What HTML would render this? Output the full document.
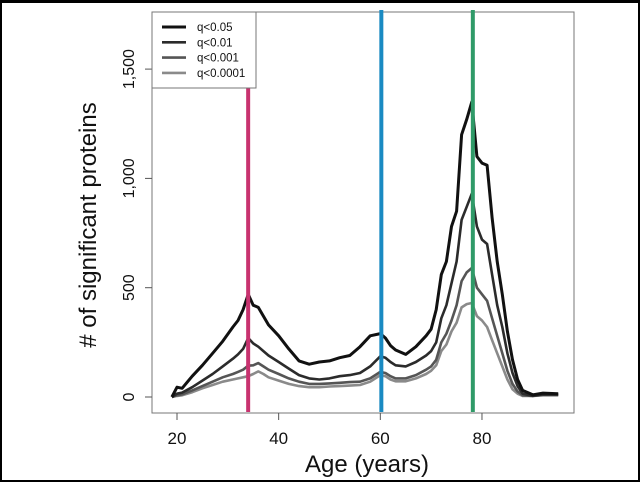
<!DOCTYPE html>
<html><head><meta charset="utf-8"><style>
html,body{margin:0;padding:0;background:#000}
#wrap{position:relative;width:640px;height:482px;overflow:hidden}
svg{display:block}
text{font-family:"Liberation Sans",sans-serif;fill:#111}
</style></head><body>
<div id="wrap">
<svg id="c" width="640" height="482">
<rect x="2" y="3" width="636" height="477" fill="#fff"/>
</svg>
</div>
<script>
const ages=[19,20,21,23,25,27,29,31,32,33,34,35,36,37,38,40,42,44,46,48,50,52,54,56,58,60,61,62,63,65,67,69,70,71,72,73,74,75,76,77,78,79,80,81,82,83,84,85,86,87,88,90,92,95];
const q05=[0,45,40,95,145,200,255,320,350,400,470,420,410,370,330,280,220,165,150,160,165,180,190,230,280,290,270,235,215,195,230,280,310,400,560,620,780,850,1200,1270,1350,1100,1070,1060,820,620,470,300,170,80,30,10,18,15];
const q01=[0,15,20,45,75,105,140,175,195,220,270,245,230,210,190,160,130,100,85,80,85,95,100,110,140,186,180,160,145,140,160,190,210,250,360,420,520,620,810,870,930,780,720,700,560,420,320,200,110,50,15,5,12,12];
const q001=[0,8,12,30,50,70,90,105,115,125,143,145,155,140,125,105,85,70,60,60,62,65,68,70,85,115,110,95,85,85,100,125,140,170,250,290,350,420,530,570,590,500,470,440,360,280,200,120,60,25,8,5,10,10];
const q0001=[0,5,8,22,40,55,70,80,85,90,95,105,117,105,90,75,60,50,45,45,48,50,52,55,70,100,95,80,72,72,85,105,120,145,210,240,300,340,410,425,430,370,350,320,260,200,140,80,35,15,5,5,8,8];
const seriesNames=["q<0.05","q<0.01","q<0.001","q<0.0001"];
const xTicks=[20,40,60,80];
const yTicks=[0,500,1000,1500];
const yTickLabels=["0","500","1,000","1,500"];
const markerAges=[34,60.2,78.2];

const svg=document.getElementById('c');
const NS="http://www.w3.org/2000/svg";
const X=a=>177+(a-20)*5.083;
const Y=v=>397-v*0.2186;
function mk(tag,attrs,parent){const e=document.createElementNS(NS,tag);for(const k in attrs)e.setAttribute(k,attrs[k]);(parent||svg).appendChild(e);return e;}

const box=mk('rect',{x:152,y:12,width:422,height:401,fill:'none',stroke:'#777','stroke-width':1});



const data=[q05,q01,q001,q0001];
const cols=['#111','#2b2b2b','#555','#8a8a8a'];
const widths=[3,2.6,2.6,2.6];
for(let s=3;s>=0;s--){
  const d=ages.map((a,i)=>(i?'L':'M')+X(a).toFixed(1)+','+Y(data[s][i]).toFixed(1)).join(' ');
  const p=mk('path',{d:d,fill:'none',stroke:cols[s],'stroke-width':widths[s],'stroke-linejoin':'round'});
  
  
}
const mcols=['#c8326f','#1a8ac2','#2f9a68'];
markerAges.forEach((a,i)=>{
  const l=mk('line',{x1:X(a),x2:X(a),y1:i==0?88:10,y2:412,stroke:mcols[i],'stroke-width':4});
  
  
});
xTicks.forEach(t=>{
  const l=mk('line',{x1:X(t),x2:X(t),y1:413,y2:420,stroke:'#555'});
  
  
  const tx=mk('text',{x:X(t),y:444,'font-size':17,'text-anchor':'middle'});
  tx.textContent=t;
  
  
});
yTicks.forEach((t,i)=>{
  const l=mk('line',{x1:145,x2:152,y1:Y(t),y2:Y(t),stroke:'#555'});
  
  
  const tx=mk('text',{x:0,y:0,'font-size':16,'text-anchor':'middle',transform:'translate(134,'+Y(t)+') rotate(-90)'});
  tx.textContent=yTickLabels[i];
  
  
});
const xt=mk('text',{x:367,y:472,'font-size':24,'text-anchor':'middle'});
xt.textContent='Age (years)';


const yt=mk('text',{x:0,y:0,'font-size':24,'text-anchor':'middle',transform:'translate(96,225) rotate(-90)'});
yt.textContent='# of significant proteins';



const lg=mk('rect',{x:152,y:12,width:104,height:76,fill:'#fff',stroke:'#777','stroke-width':1});


seriesNames.forEach((n,i)=>{
  const y=27+i*15.3;
  const l=mk('line',{x1:162,x2:186,y1:y,y2:y,stroke:cols[i],'stroke-width':widths[i]});
  
  
  const t=mk('text',{x:197,y:y+4,'font-size':11.5});
  t.textContent=n;
  
  
});
</script>
</body></html>
